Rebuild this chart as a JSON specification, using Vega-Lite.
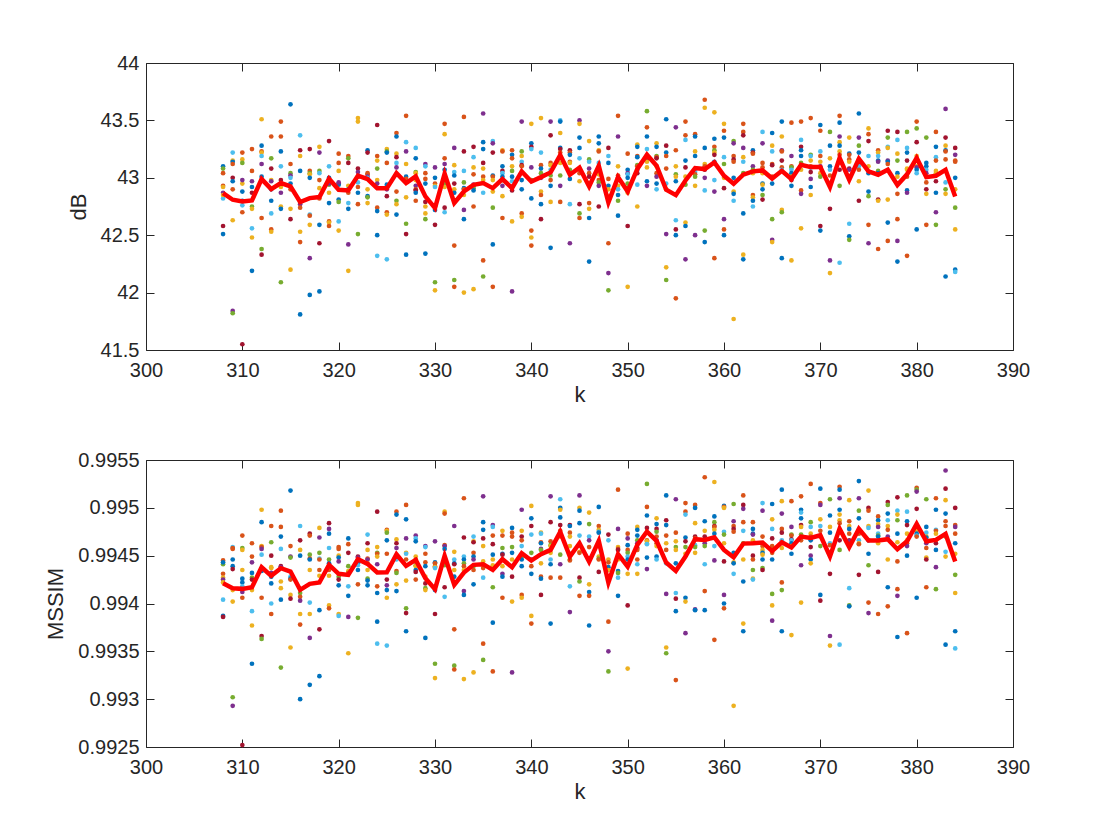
{
"$schema":"https://vega.github.io/schema/vega-lite/v6.json",
"background":"white",
"padding":{"left":44,"top":53,"right":5,"bottom":5},
"spacing":45,
"config":{"view":{"stroke":null},"font":"Liberation Sans","axis":{"domainColor":"#262626","tickColor":"#262626","labelColor":"#262626","titleColor":"#262626","labelFont":"Liberation Sans","titleFont":"Liberation Sans","labelFontSize":20,"titleFontSize":22,"titleFontWeight":"normal","tickSize":-8,"grid":false,"labelFlush":false,"labelOverlap":false,"labelBound":false,"domainWidth":1,"tickWidth":1}},
"datasets":{
"psnr":[
{"k":308,"v":43.10,"c":"B"},{"k":308,"v":43.08,"c":"G"},{"k":308,"v":43.04,"c":"O"},{"k":308,"v":42.93,"c":"O"},{"k":308,"v":42.92,"c":"Y"},{"k":308,"v":42.87,"c":"P"},{"k":308,"v":42.82,"c":"C"},{"k":308,"v":42.58,"c":"R"},{"k":308,"v":42.51,"c":"B"},{"k":308,"v":42.85,"c":"Y"},
{"k":309,"v":43.22,"c":"C"},{"k":309,"v":43.15,"c":"Y"},{"k":309,"v":43.14,"c":"B"},{"k":309,"v":43.12,"c":"O"},{"k":309,"v":43.00,"c":"R"},{"k":309,"v":42.97,"c":"B"},{"k":309,"v":42.90,"c":"O"},{"k":309,"v":42.63,"c":"Y"},{"k":309,"v":41.84,"c":"P"},{"k":309,"v":41.82,"c":"G"},
{"k":310,"v":43.22,"c":"O"},{"k":310,"v":43.16,"c":"Y"},{"k":310,"v":43.13,"c":"G"},{"k":310,"v":42.95,"c":"Y"},{"k":310,"v":42.88,"c":"B"},{"k":310,"v":42.80,"c":"B"},{"k":310,"v":42.76,"c":"C"},{"k":310,"v":42.70,"c":"O"},{"k":310,"v":41.55,"c":"R"},{"k":310,"v":42.98,"c":"P"},
{"k":311,"v":43.25,"c":"O"},{"k":311,"v":43.06,"c":"O"},{"k":311,"v":42.97,"c":"P"},{"k":311,"v":42.87,"c":"R"},{"k":311,"v":42.75,"c":"G"},{"k":311,"v":42.73,"c":"Y"},{"k":311,"v":42.56,"c":"C"},{"k":311,"v":42.48,"c":"Y"},{"k":311,"v":42.19,"c":"B"},{"k":311,"v":42.92,"c":"B"},
{"k":312,"v":43.51,"c":"Y"},{"k":312,"v":43.28,"c":"B"},{"k":312,"v":43.23,"c":"O"},{"k":312,"v":43.22,"c":"Y"},{"k":312,"v":43.19,"c":"C"},{"k":312,"v":43.12,"c":"P"},{"k":312,"v":43.01,"c":"B"},{"k":312,"v":42.65,"c":"O"},{"k":312,"v":42.38,"c":"G"},{"k":312,"v":42.33,"c":"R"},
{"k":313,"v":43.36,"c":"O"},{"k":313,"v":43.17,"c":"G"},{"k":313,"v":43.08,"c":"R"},{"k":313,"v":42.98,"c":"Y"},{"k":313,"v":42.97,"c":"P"},{"k":313,"v":42.80,"c":"B"},{"k":313,"v":42.69,"c":"C"},{"k":313,"v":42.55,"c":"O"},{"k":313,"v":42.53,"c":"Y"},{"k":313,"v":42.90,"c":"B"},
{"k":314,"v":43.49,"c":"O"},{"k":314,"v":43.36,"c":"O"},{"k":314,"v":43.23,"c":"B"},{"k":314,"v":43.10,"c":"C"},{"k":314,"v":42.98,"c":"R"},{"k":314,"v":42.92,"c":"Y"},{"k":314,"v":42.87,"c":"P"},{"k":314,"v":42.75,"c":"Y"},{"k":314,"v":42.73,"c":"B"},{"k":314,"v":42.09,"c":"G"},
{"k":315,"v":43.64,"c":"B"},{"k":315,"v":43.12,"c":"O"},{"k":315,"v":43.04,"c":"G"},{"k":315,"v":43.02,"c":"P"},{"k":315,"v":43.00,"c":"C"},{"k":315,"v":42.95,"c":"B"},{"k":315,"v":42.90,"c":"O"},{"k":315,"v":42.73,"c":"Y"},{"k":315,"v":42.64,"c":"R"},{"k":315,"v":42.20,"c":"Y"},
{"k":316,"v":43.37,"c":"C"},{"k":316,"v":43.24,"c":"R"},{"k":316,"v":43.19,"c":"Y"},{"k":316,"v":43.06,"c":"B"},{"k":316,"v":42.78,"c":"G"},{"k":316,"v":42.77,"c":"P"},{"k":316,"v":42.74,"c":"O"},{"k":316,"v":42.53,"c":"Y"},{"k":316,"v":42.44,"c":"O"},{"k":316,"v":41.81,"c":"B"},
{"k":317,"v":43.25,"c":"R"},{"k":317,"v":43.06,"c":"O"},{"k":317,"v":43.04,"c":"G"},{"k":317,"v":43.03,"c":"Y"},{"k":317,"v":43.00,"c":"B"},{"k":317,"v":42.68,"c":"C"},{"k":317,"v":42.67,"c":"O"},{"k":317,"v":42.59,"c":"Y"},{"k":317,"v":42.30,"c":"P"},{"k":317,"v":41.98,"c":"B"},
{"k":318,"v":43.27,"c":"Y"},{"k":318,"v":43.22,"c":"P"},{"k":318,"v":43.06,"c":"G"},{"k":318,"v":43.04,"c":"C"},{"k":318,"v":42.98,"c":"O"},{"k":318,"v":42.91,"c":"Y"},{"k":318,"v":42.82,"c":"O"},{"k":318,"v":42.59,"c":"B"},{"k":318,"v":42.43,"c":"R"},{"k":318,"v":42.01,"c":"B"},
{"k":319,"v":43.32,"c":"R"},{"k":319,"v":43.10,"c":"C"},{"k":319,"v":43.00,"c":"B"},{"k":319,"v":42.94,"c":"G"},{"k":319,"v":42.95,"c":"P"},{"k":319,"v":42.87,"c":"Y"},{"k":319,"v":42.78,"c":"B"},{"k":319,"v":42.62,"c":"O"},{"k":319,"v":42.61,"c":"Y"},{"k":319,"v":42.58,"c":"O"},
{"k":320,"v":43.21,"c":"O"},{"k":320,"v":43.13,"c":"O"},{"k":320,"v":43.06,"c":"Y"},{"k":320,"v":42.95,"c":"R"},{"k":320,"v":42.94,"c":"B"},{"k":320,"v":42.96,"c":"P"},{"k":320,"v":42.81,"c":"B"},{"k":320,"v":42.79,"c":"G"},{"k":320,"v":42.62,"c":"C"},{"k":320,"v":42.54,"c":"Y"},
{"k":321,"v":43.19,"c":"O"},{"k":321,"v":43.17,"c":"G"},{"k":321,"v":43.13,"c":"R"},{"k":321,"v":42.93,"c":"Y"},{"k":321,"v":42.90,"c":"B"},{"k":321,"v":42.87,"c":"O"},{"k":321,"v":42.78,"c":"C"},{"k":321,"v":42.73,"c":"B"},{"k":321,"v":42.42,"c":"P"},{"k":321,"v":42.19,"c":"Y"},
{"k":322,"v":43.52,"c":"Y"},{"k":322,"v":43.49,"c":"Y"},{"k":322,"v":43.08,"c":"R"},{"k":322,"v":43.05,"c":"P"},{"k":322,"v":43.01,"c":"B"},{"k":322,"v":42.96,"c":"C"},{"k":322,"v":42.92,"c":"O"},{"k":322,"v":42.87,"c":"B"},{"k":322,"v":42.77,"c":"O"},{"k":322,"v":42.51,"c":"G"},
{"k":323,"v":43.24,"c":"B"},{"k":323,"v":43.22,"c":"R"},{"k":323,"v":43.04,"c":"O"},{"k":323,"v":43.03,"c":"O"},{"k":323,"v":43.01,"c":"P"},{"k":323,"v":43.00,"c":"C"},{"k":323,"v":42.90,"c":"Y"},{"k":323,"v":42.84,"c":"B"},{"k":323,"v":42.83,"c":"G"},{"k":323,"v":42.78,"c":"Y"},
{"k":324,"v":43.46,"c":"R"},{"k":324,"v":43.19,"c":"O"},{"k":324,"v":43.15,"c":"Y"},{"k":324,"v":43.08,"c":"G"},{"k":324,"v":42.98,"c":"Y"},{"k":324,"v":42.95,"c":"P"},{"k":324,"v":42.74,"c":"O"},{"k":324,"v":42.71,"c":"B"},{"k":324,"v":42.50,"c":"B"},{"k":324,"v":42.32,"c":"C"},
{"k":325,"v":43.25,"c":"Y"},{"k":325,"v":43.23,"c":"G"},{"k":325,"v":43.22,"c":"B"},{"k":325,"v":43.13,"c":"O"},{"k":325,"v":42.94,"c":"B"},{"k":325,"v":42.90,"c":"P"},{"k":325,"v":42.84,"c":"R"},{"k":325,"v":42.70,"c":"O"},{"k":325,"v":42.68,"c":"Y"},{"k":325,"v":42.29,"c":"C"},
{"k":326,"v":43.39,"c":"O"},{"k":326,"v":43.36,"c":"B"},{"k":326,"v":43.21,"c":"Y"},{"k":326,"v":43.18,"c":"R"},{"k":326,"v":43.13,"c":"C"},{"k":326,"v":43.09,"c":"P"},{"k":326,"v":42.88,"c":"O"},{"k":326,"v":42.80,"c":"G"},{"k":326,"v":42.77,"c":"Y"},{"k":326,"v":42.68,"c":"B"},
{"k":327,"v":43.54,"c":"O"},{"k":327,"v":43.31,"c":"C"},{"k":327,"v":43.23,"c":"P"},{"k":327,"v":43.12,"c":"Y"},{"k":327,"v":43.01,"c":"B"},{"k":327,"v":42.99,"c":"O"},{"k":327,"v":42.83,"c":"Y"},{"k":327,"v":42.60,"c":"G"},{"k":327,"v":42.51,"c":"R"},{"k":327,"v":42.33,"c":"B"},
{"k":328,"v":43.26,"c":"C"},{"k":328,"v":43.17,"c":"B"},{"k":328,"v":43.05,"c":"G"},{"k":328,"v":43.04,"c":"Y"},{"k":328,"v":42.98,"c":"Y"},{"k":328,"v":42.93,"c":"P"},{"k":328,"v":42.90,"c":"O"},{"k":328,"v":42.89,"c":"R"},{"k":328,"v":42.87,"c":"B"},{"k":328,"v":42.80,"c":"O"},
{"k":329,"v":43.12,"c":"P"},{"k":329,"v":43.10,"c":"C"},{"k":329,"v":43.04,"c":"O"},{"k":329,"v":42.99,"c":"O"},{"k":329,"v":42.79,"c":"R"},{"k":329,"v":42.75,"c":"Y"},{"k":329,"v":42.69,"c":"Y"},{"k":329,"v":42.64,"c":"G"},{"k":329,"v":42.34,"c":"B"},{"k":329,"v":42.95,"c":"B"},
{"k":330,"v":43.09,"c":"P"},{"k":330,"v":43.00,"c":"B"},{"k":330,"v":42.95,"c":"O"},{"k":330,"v":42.93,"c":"Y"},{"k":330,"v":42.92,"c":"C"},{"k":330,"v":42.72,"c":"B"},{"k":330,"v":42.59,"c":"R"},{"k":330,"v":42.09,"c":"G"},{"k":330,"v":42.02,"c":"Y"},{"k":330,"v":42.75,"c":"O"},
{"k":331,"v":43.47,"c":"O"},{"k":331,"v":43.38,"c":"Y"},{"k":331,"v":43.17,"c":"O"},{"k":331,"v":43.12,"c":"P"},{"k":331,"v":43.07,"c":"B"},{"k":331,"v":42.98,"c":"B"},{"k":331,"v":42.95,"c":"G"},{"k":331,"v":42.92,"c":"Y"},{"k":331,"v":42.74,"c":"R"},{"k":331,"v":42.70,"c":"C"},
{"k":332,"v":43.26,"c":"P"},{"k":332,"v":43.11,"c":"Y"},{"k":332,"v":43.05,"c":"C"},{"k":332,"v":43.02,"c":"B"},{"k":332,"v":42.95,"c":"R"},{"k":332,"v":42.90,"c":"Y"},{"k":332,"v":42.87,"c":"B"},{"k":332,"v":42.41,"c":"O"},{"k":332,"v":42.11,"c":"G"},{"k":332,"v":42.05,"c":"O"},
{"k":333,"v":43.53,"c":"O"},{"k":333,"v":43.23,"c":"R"},{"k":333,"v":43.06,"c":"C"},{"k":333,"v":42.96,"c":"G"},{"k":333,"v":42.91,"c":"B"},{"k":333,"v":42.90,"c":"O"},{"k":333,"v":42.85,"c":"Y"},{"k":333,"v":42.72,"c":"P"},{"k":333,"v":42.64,"c":"B"},{"k":333,"v":42.00,"c":"Y"},
{"k":334,"v":43.27,"c":"R"},{"k":334,"v":43.18,"c":"C"},{"k":334,"v":43.09,"c":"Y"},{"k":334,"v":43.03,"c":"O"},{"k":334,"v":42.94,"c":"P"},{"k":334,"v":42.93,"c":"B"},{"k":334,"v":42.91,"c":"G"},{"k":334,"v":42.89,"c":"B"},{"k":334,"v":42.75,"c":"O"},{"k":334,"v":42.03,"c":"Y"},
{"k":335,"v":43.56,"c":"P"},{"k":335,"v":43.31,"c":"B"},{"k":335,"v":43.25,"c":"B"},{"k":335,"v":43.13,"c":"R"},{"k":335,"v":43.08,"c":"Y"},{"k":335,"v":43.01,"c":"O"},{"k":335,"v":42.98,"c":"Y"},{"k":335,"v":42.87,"c":"C"},{"k":335,"v":42.28,"c":"O"},{"k":335,"v":42.14,"c":"G"},
{"k":336,"v":43.32,"c":"C"},{"k":336,"v":43.30,"c":"P"},{"k":336,"v":43.22,"c":"R"},{"k":336,"v":43.02,"c":"B"},{"k":336,"v":43.01,"c":"O"},{"k":336,"v":42.98,"c":"Y"},{"k":336,"v":42.88,"c":"Y"},{"k":336,"v":42.74,"c":"G"},{"k":336,"v":42.42,"c":"B"},{"k":336,"v":42.05,"c":"O"},
{"k":337,"v":43.24,"c":"Y"},{"k":337,"v":43.23,"c":"O"},{"k":337,"v":43.10,"c":"B"},{"k":337,"v":43.06,"c":"R"},{"k":337,"v":43.04,"c":"C"},{"k":337,"v":43.01,"c":"B"},{"k":337,"v":42.98,"c":"G"},{"k":337,"v":42.93,"c":"P"},{"k":337,"v":42.84,"c":"Y"},{"k":337,"v":42.65,"c":"O"},
{"k":338,"v":43.24,"c":"O"},{"k":338,"v":43.20,"c":"B"},{"k":338,"v":43.17,"c":"O"},{"k":338,"v":43.10,"c":"Y"},{"k":338,"v":43.06,"c":"G"},{"k":338,"v":43.01,"c":"B"},{"k":338,"v":42.97,"c":"C"},{"k":338,"v":42.89,"c":"R"},{"k":338,"v":42.62,"c":"Y"},{"k":338,"v":42.01,"c":"P"},
{"k":339,"v":43.49,"c":"P"},{"k":339,"v":43.23,"c":"G"},{"k":339,"v":43.19,"c":"Y"},{"k":339,"v":43.14,"c":"C"},{"k":339,"v":43.11,"c":"R"},{"k":339,"v":43.10,"c":"O"},{"k":339,"v":42.98,"c":"B"},{"k":339,"v":42.90,"c":"B"},{"k":339,"v":42.69,"c":"O"},{"k":339,"v":42.66,"c":"Y"},
{"k":340,"v":43.47,"c":"Y"},{"k":340,"v":43.30,"c":"B"},{"k":340,"v":43.27,"c":"R"},{"k":340,"v":43.25,"c":"C"},{"k":340,"v":43.09,"c":"P"},{"k":340,"v":42.98,"c":"G"},{"k":340,"v":42.82,"c":"B"},{"k":340,"v":42.54,"c":"O"},{"k":340,"v":42.48,"c":"Y"},{"k":340,"v":42.41,"c":"O"},
{"k":341,"v":43.52,"c":"Y"},{"k":341,"v":43.22,"c":"C"},{"k":341,"v":43.11,"c":"O"},{"k":341,"v":43.08,"c":"B"},{"k":341,"v":43.04,"c":"G"},{"k":341,"v":43.00,"c":"P"},{"k":341,"v":42.88,"c":"Y"},{"k":341,"v":42.85,"c":"O"},{"k":341,"v":42.77,"c":"B"},{"k":341,"v":42.64,"c":"R"},
{"k":342,"v":43.49,"c":"P"},{"k":342,"v":43.37,"c":"R"},{"k":342,"v":43.13,"c":"O"},{"k":342,"v":43.11,"c":"Y"},{"k":342,"v":43.07,"c":"C"},{"k":342,"v":43.02,"c":"G"},{"k":342,"v":42.98,"c":"O"},{"k":342,"v":42.93,"c":"B"},{"k":342,"v":42.39,"c":"B"},{"k":342,"v":42.79,"c":"Y"},
{"k":343,"v":43.50,"c":"C"},{"k":343,"v":43.49,"c":"B"},{"k":343,"v":43.39,"c":"Y"},{"k":343,"v":43.26,"c":"B"},{"k":343,"v":43.25,"c":"R"},{"k":343,"v":43.22,"c":"O"},{"k":343,"v":43.13,"c":"Y"},{"k":343,"v":43.02,"c":"G"},{"k":343,"v":42.93,"c":"P"},{"k":343,"v":42.79,"c":"O"},
{"k":344,"v":43.24,"c":"R"},{"k":344,"v":43.22,"c":"O"},{"k":344,"v":43.20,"c":"B"},{"k":344,"v":43.14,"c":"O"},{"k":344,"v":43.13,"c":"Y"},{"k":344,"v":43.07,"c":"G"},{"k":344,"v":43.04,"c":"Y"},{"k":344,"v":42.99,"c":"B"},{"k":344,"v":42.77,"c":"C"},{"k":344,"v":42.43,"c":"P"},
{"k":345,"v":43.50,"c":"P"},{"k":345,"v":43.47,"c":"Y"},{"k":345,"v":43.35,"c":"B"},{"k":345,"v":43.26,"c":"B"},{"k":345,"v":43.17,"c":"C"},{"k":345,"v":43.04,"c":"O"},{"k":345,"v":42.97,"c":"Y"},{"k":345,"v":42.77,"c":"R"},{"k":345,"v":42.69,"c":"G"},{"k":345,"v":42.65,"c":"O"},
{"k":346,"v":43.32,"c":"Y"},{"k":346,"v":43.16,"c":"G"},{"k":346,"v":43.14,"c":"C"},{"k":346,"v":43.08,"c":"P"},{"k":346,"v":43.04,"c":"O"},{"k":346,"v":43.01,"c":"R"},{"k":346,"v":42.78,"c":"O"},{"k":346,"v":42.73,"c":"Y"},{"k":346,"v":42.65,"c":"B"},{"k":346,"v":42.27,"c":"B"},
{"k":347,"v":43.36,"c":"B"},{"k":347,"v":43.30,"c":"B"},{"k":347,"v":43.24,"c":"Y"},{"k":347,"v":43.23,"c":"O"},{"k":347,"v":43.13,"c":"C"},{"k":347,"v":43.03,"c":"Y"},{"k":347,"v":42.98,"c":"O"},{"k":347,"v":42.96,"c":"G"},{"k":347,"v":42.93,"c":"P"},{"k":347,"v":42.75,"c":"R"},
{"k":348,"v":43.26,"c":"R"},{"k":348,"v":43.19,"c":"C"},{"k":348,"v":43.13,"c":"B"},{"k":348,"v":42.99,"c":"O"},{"k":348,"v":42.93,"c":"B"},{"k":348,"v":42.84,"c":"Y"},{"k":348,"v":42.43,"c":"O"},{"k":348,"v":42.17,"c":"P"},{"k":348,"v":42.02,"c":"G"},{"k":348,"v":42.90,"c":"Y"},
{"k":349,"v":43.54,"c":"O"},{"k":349,"v":43.36,"c":"P"},{"k":349,"v":43.10,"c":"Y"},{"k":349,"v":43.02,"c":"O"},{"k":349,"v":43.00,"c":"R"},{"k":349,"v":42.93,"c":"Y"},{"k":349,"v":42.90,"c":"C"},{"k":349,"v":42.85,"c":"B"},{"k":349,"v":42.80,"c":"G"},{"k":349,"v":42.67,"c":"B"},
{"k":350,"v":43.21,"c":"O"},{"k":350,"v":43.07,"c":"B"},{"k":350,"v":43.04,"c":"P"},{"k":350,"v":43.03,"c":"C"},{"k":350,"v":43.00,"c":"B"},{"k":350,"v":42.95,"c":"G"},{"k":350,"v":42.91,"c":"O"},{"k":350,"v":42.87,"c":"Y"},{"k":350,"v":42.58,"c":"R"},{"k":350,"v":42.05,"c":"Y"},
{"k":351,"v":43.29,"c":"Y"},{"k":351,"v":43.27,"c":"B"},{"k":351,"v":43.19,"c":"O"},{"k":351,"v":43.18,"c":"B"},{"k":351,"v":43.11,"c":"G"},{"k":351,"v":43.10,"c":"O"},{"k":351,"v":43.07,"c":"P"},{"k":351,"v":43.04,"c":"R"},{"k":351,"v":42.94,"c":"C"},{"k":351,"v":42.75,"c":"Y"},
{"k":352,"v":43.58,"c":"G"},{"k":352,"v":43.44,"c":"O"},{"k":352,"v":43.36,"c":"B"},{"k":352,"v":43.25,"c":"C"},{"k":352,"v":43.19,"c":"O"},{"k":352,"v":43.16,"c":"R"},{"k":352,"v":43.14,"c":"Y"},{"k":352,"v":43.09,"c":"Y"},{"k":352,"v":42.97,"c":"B"},{"k":352,"v":42.93,"c":"P"},
{"k":353,"v":43.30,"c":"Y"},{"k":353,"v":43.27,"c":"B"},{"k":353,"v":43.19,"c":"G"},{"k":353,"v":43.18,"c":"O"},{"k":353,"v":43.17,"c":"R"},{"k":353,"v":43.10,"c":"Y"},{"k":353,"v":43.04,"c":"O"},{"k":353,"v":43.01,"c":"P"},{"k":353,"v":42.95,"c":"B"},{"k":353,"v":42.90,"c":"C"},
{"k":354,"v":43.51,"c":"B"},{"k":354,"v":43.28,"c":"R"},{"k":354,"v":43.22,"c":"B"},{"k":354,"v":43.19,"c":"O"},{"k":354,"v":43.08,"c":"O"},{"k":354,"v":42.95,"c":"C"},{"k":354,"v":42.90,"c":"Y"},{"k":354,"v":42.51,"c":"P"},{"k":354,"v":42.22,"c":"Y"},{"k":354,"v":42.11,"c":"G"},
{"k":355,"v":43.44,"c":"P"},{"k":355,"v":43.24,"c":"O"},{"k":355,"v":43.10,"c":"Y"},{"k":355,"v":43.03,"c":"G"},{"k":355,"v":43.01,"c":"Y"},{"k":355,"v":42.97,"c":"B"},{"k":355,"v":42.63,"c":"C"},{"k":355,"v":42.55,"c":"R"},{"k":355,"v":42.50,"c":"B"},{"k":355,"v":41.95,"c":"O"},
{"k":356,"v":43.49,"c":"O"},{"k":356,"v":43.37,"c":"O"},{"k":356,"v":43.33,"c":"C"},{"k":356,"v":43.15,"c":"B"},{"k":356,"v":43.09,"c":"R"},{"k":356,"v":43.01,"c":"Y"},{"k":356,"v":42.94,"c":"G"},{"k":356,"v":42.61,"c":"Y"},{"k":356,"v":42.58,"c":"B"},{"k":356,"v":42.29,"c":"P"},
{"k":357,"v":43.38,"c":"O"},{"k":357,"v":43.36,"c":"B"},{"k":357,"v":43.23,"c":"Y"},{"k":357,"v":43.19,"c":"B"},{"k":357,"v":43.07,"c":"R"},{"k":357,"v":43.05,"c":"C"},{"k":357,"v":43.03,"c":"O"},{"k":357,"v":43.01,"c":"G"},{"k":357,"v":42.93,"c":"Y"},{"k":357,"v":42.50,"c":"P"},
{"k":358,"v":43.68,"c":"O"},{"k":358,"v":43.61,"c":"Y"},{"k":358,"v":43.26,"c":"B"},{"k":358,"v":43.12,"c":"Y"},{"k":358,"v":43.10,"c":"O"},{"k":358,"v":43.07,"c":"R"},{"k":358,"v":43.00,"c":"P"},{"k":358,"v":42.89,"c":"C"},{"k":358,"v":42.54,"c":"G"},{"k":358,"v":42.44,"c":"B"},
{"k":359,"v":43.57,"c":"Y"},{"k":359,"v":43.34,"c":"B"},{"k":359,"v":43.27,"c":"O"},{"k":359,"v":43.24,"c":"G"},{"k":359,"v":43.22,"c":"Y"},{"k":359,"v":43.20,"c":"R"},{"k":359,"v":43.14,"c":"B"},{"k":359,"v":42.98,"c":"C"},{"k":359,"v":42.88,"c":"P"},{"k":359,"v":42.30,"c":"O"},
{"k":360,"v":43.47,"c":"Y"},{"k":360,"v":43.41,"c":"O"},{"k":360,"v":43.35,"c":"B"},{"k":360,"v":43.18,"c":"C"},{"k":360,"v":43.12,"c":"G"},{"k":360,"v":43.00,"c":"Y"},{"k":360,"v":42.91,"c":"R"},{"k":360,"v":42.64,"c":"P"},{"k":360,"v":42.55,"c":"O"},{"k":360,"v":42.50,"c":"B"},
{"k":361,"v":43.32,"c":"G"},{"k":361,"v":43.30,"c":"P"},{"k":361,"v":43.19,"c":"O"},{"k":361,"v":43.16,"c":"R"},{"k":361,"v":43.14,"c":"O"},{"k":361,"v":43.00,"c":"B"},{"k":361,"v":42.88,"c":"Y"},{"k":361,"v":42.86,"c":"B"},{"k":361,"v":42.80,"c":"C"},{"k":361,"v":41.77,"c":"Y"},
{"k":362,"v":43.47,"c":"O"},{"k":362,"v":43.40,"c":"O"},{"k":362,"v":43.37,"c":"R"},{"k":362,"v":43.26,"c":"P"},{"k":362,"v":43.18,"c":"Y"},{"k":362,"v":43.14,"c":"C"},{"k":362,"v":43.04,"c":"G"},{"k":362,"v":42.69,"c":"B"},{"k":362,"v":42.33,"c":"Y"},{"k":362,"v":42.29,"c":"B"},
{"k":363,"v":43.24,"c":"B"},{"k":363,"v":43.22,"c":"R"},{"k":363,"v":43.21,"c":"O"},{"k":363,"v":43.10,"c":"P"},{"k":363,"v":43.07,"c":"G"},{"k":363,"v":43.04,"c":"Y"},{"k":363,"v":42.85,"c":"O"},{"k":363,"v":42.83,"c":"Y"},{"k":363,"v":42.80,"c":"B"},{"k":363,"v":42.75,"c":"C"},
{"k":364,"v":43.40,"c":"C"},{"k":364,"v":43.30,"c":"P"},{"k":364,"v":43.13,"c":"O"},{"k":364,"v":43.09,"c":"O"},{"k":364,"v":43.04,"c":"Y"},{"k":364,"v":42.95,"c":"B"},{"k":364,"v":42.94,"c":"Y"},{"k":364,"v":42.90,"c":"B"},{"k":364,"v":42.85,"c":"G"},{"k":364,"v":42.81,"c":"R"},
{"k":365,"v":43.39,"c":"B"},{"k":365,"v":43.28,"c":"Y"},{"k":365,"v":43.23,"c":"C"},{"k":365,"v":43.12,"c":"O"},{"k":365,"v":43.11,"c":"R"},{"k":365,"v":43.01,"c":"O"},{"k":365,"v":42.95,"c":"B"},{"k":365,"v":42.64,"c":"G"},{"k":365,"v":42.46,"c":"P"},{"k":365,"v":42.44,"c":"Y"},
{"k":366,"v":43.49,"c":"B"},{"k":366,"v":43.36,"c":"Y"},{"k":366,"v":43.24,"c":"P"},{"k":366,"v":43.23,"c":"O"},{"k":366,"v":43.15,"c":"R"},{"k":366,"v":43.09,"c":"O"},{"k":366,"v":43.07,"c":"C"},{"k":366,"v":42.72,"c":"Y"},{"k":366,"v":42.70,"c":"G"},{"k":366,"v":42.30,"c":"B"},
{"k":367,"v":43.48,"c":"O"},{"k":367,"v":43.19,"c":"P"},{"k":367,"v":43.10,"c":"O"},{"k":367,"v":43.09,"c":"G"},{"k":367,"v":43.07,"c":"C"},{"k":367,"v":43.04,"c":"B"},{"k":367,"v":43.01,"c":"Y"},{"k":367,"v":42.98,"c":"R"},{"k":367,"v":42.93,"c":"B"},{"k":367,"v":42.28,"c":"Y"},
{"k":368,"v":43.49,"c":"O"},{"k":368,"v":43.33,"c":"C"},{"k":368,"v":43.27,"c":"R"},{"k":368,"v":43.24,"c":"B"},{"k":368,"v":43.19,"c":"B"},{"k":368,"v":43.13,"c":"G"},{"k":368,"v":43.07,"c":"Y"},{"k":368,"v":42.89,"c":"O"},{"k":368,"v":42.86,"c":"P"},{"k":368,"v":42.56,"c":"Y"},
{"k":369,"v":43.52,"c":"O"},{"k":369,"v":43.20,"c":"G"},{"k":369,"v":43.19,"c":"C"},{"k":369,"v":43.15,"c":"Y"},{"k":369,"v":43.10,"c":"O"},{"k":369,"v":43.09,"c":"B"},{"k":369,"v":43.05,"c":"R"},{"k":369,"v":42.99,"c":"P"},{"k":369,"v":42.92,"c":"B"},{"k":369,"v":42.85,"c":"Y"},
{"k":370,"v":43.46,"c":"B"},{"k":370,"v":43.41,"c":"O"},{"k":370,"v":43.23,"c":"C"},{"k":370,"v":43.19,"c":"O"},{"k":370,"v":43.14,"c":"Y"},{"k":370,"v":43.10,"c":"P"},{"k":370,"v":43.04,"c":"Y"},{"k":370,"v":43.01,"c":"G"},{"k":370,"v":42.58,"c":"R"},{"k":370,"v":42.54,"c":"B"},
{"k":371,"v":43.40,"c":"G"},{"k":371,"v":43.28,"c":"B"},{"k":371,"v":43.17,"c":"Y"},{"k":371,"v":43.10,"c":"B"},{"k":371,"v":43.07,"c":"C"},{"k":371,"v":43.02,"c":"O"},{"k":371,"v":42.95,"c":"O"},{"k":371,"v":42.73,"c":"R"},{"k":371,"v":42.28,"c":"P"},{"k":371,"v":42.17,"c":"Y"},
{"k":372,"v":43.54,"c":"O"},{"k":372,"v":43.48,"c":"B"},{"k":372,"v":43.36,"c":"P"},{"k":372,"v":43.31,"c":"Y"},{"k":372,"v":43.28,"c":"B"},{"k":372,"v":43.23,"c":"Y"},{"k":372,"v":43.20,"c":"O"},{"k":372,"v":43.07,"c":"R"},{"k":372,"v":42.93,"c":"G"},{"k":372,"v":42.26,"c":"C"},
{"k":373,"v":43.35,"c":"Y"},{"k":373,"v":43.21,"c":"B"},{"k":373,"v":43.20,"c":"O"},{"k":373,"v":43.16,"c":"O"},{"k":373,"v":43.14,"c":"Y"},{"k":373,"v":43.08,"c":"R"},{"k":373,"v":43.07,"c":"P"},{"k":373,"v":42.60,"c":"C"},{"k":373,"v":42.49,"c":"B"},{"k":373,"v":42.46,"c":"G"},
{"k":374,"v":43.56,"c":"B"},{"k":374,"v":43.35,"c":"P"},{"k":374,"v":43.28,"c":"G"},{"k":374,"v":43.22,"c":"B"},{"k":374,"v":43.16,"c":"Y"},{"k":374,"v":43.11,"c":"O"},{"k":374,"v":43.10,"c":"C"},{"k":374,"v":43.07,"c":"O"},{"k":374,"v":42.97,"c":"Y"},{"k":374,"v":42.80,"c":"R"},
{"k":375,"v":43.43,"c":"Y"},{"k":375,"v":43.38,"c":"O"},{"k":375,"v":43.32,"c":"R"},{"k":375,"v":43.19,"c":"C"},{"k":375,"v":43.10,"c":"Y"},{"k":375,"v":43.04,"c":"B"},{"k":375,"v":42.88,"c":"B"},{"k":375,"v":42.84,"c":"G"},{"k":375,"v":42.59,"c":"O"},{"k":375,"v":42.43,"c":"P"},
{"k":376,"v":43.24,"c":"O"},{"k":376,"v":43.22,"c":"Y"},{"k":376,"v":43.19,"c":"C"},{"k":376,"v":43.15,"c":"B"},{"k":376,"v":43.14,"c":"P"},{"k":376,"v":43.06,"c":"G"},{"k":376,"v":43.04,"c":"B"},{"k":376,"v":42.81,"c":"R"},{"k":376,"v":42.80,"c":"Y"},{"k":376,"v":42.38,"c":"O"},
{"k":377,"v":43.41,"c":"R"},{"k":377,"v":43.35,"c":"G"},{"k":377,"v":43.27,"c":"C"},{"k":377,"v":43.26,"c":"Y"},{"k":377,"v":43.15,"c":"P"},{"k":377,"v":43.14,"c":"B"},{"k":377,"v":43.12,"c":"O"},{"k":377,"v":42.81,"c":"Y"},{"k":377,"v":42.61,"c":"B"},{"k":377,"v":42.45,"c":"O"},
{"k":378,"v":43.40,"c":"R"},{"k":378,"v":43.33,"c":"C"},{"k":378,"v":43.21,"c":"Y"},{"k":378,"v":43.15,"c":"G"},{"k":378,"v":43.04,"c":"B"},{"k":378,"v":43.01,"c":"Y"},{"k":378,"v":42.86,"c":"O"},{"k":378,"v":42.64,"c":"O"},{"k":378,"v":42.45,"c":"P"},{"k":378,"v":42.27,"c":"B"},
{"k":379,"v":43.40,"c":"G"},{"k":379,"v":43.26,"c":"C"},{"k":379,"v":43.22,"c":"B"},{"k":379,"v":43.15,"c":"R"},{"k":379,"v":43.08,"c":"Y"},{"k":379,"v":43.07,"c":"Y"},{"k":379,"v":43.01,"c":"O"},{"k":379,"v":42.89,"c":"B"},{"k":379,"v":42.87,"c":"P"},{"k":379,"v":42.32,"c":"O"},
{"k":380,"v":43.49,"c":"O"},{"k":380,"v":43.43,"c":"G"},{"k":380,"v":43.31,"c":"R"},{"k":380,"v":43.19,"c":"Y"},{"k":380,"v":43.16,"c":"O"},{"k":380,"v":43.10,"c":"Y"},{"k":380,"v":43.09,"c":"P"},{"k":380,"v":43.07,"c":"B"},{"k":380,"v":43.04,"c":"C"},{"k":380,"v":42.55,"c":"B"},
{"k":381,"v":43.35,"c":"G"},{"k":381,"v":43.13,"c":"B"},{"k":381,"v":43.10,"c":"B"},{"k":381,"v":43.07,"c":"C"},{"k":381,"v":43.04,"c":"P"},{"k":381,"v":43.01,"c":"Y"},{"k":381,"v":42.96,"c":"O"},{"k":381,"v":42.90,"c":"R"},{"k":381,"v":42.86,"c":"Y"},{"k":381,"v":42.59,"c":"O"},
{"k":382,"v":43.40,"c":"O"},{"k":382,"v":43.27,"c":"B"},{"k":382,"v":43.18,"c":"C"},{"k":382,"v":43.15,"c":"O"},{"k":382,"v":43.06,"c":"Y"},{"k":382,"v":43.04,"c":"Y"},{"k":382,"v":42.97,"c":"R"},{"k":382,"v":42.87,"c":"B"},{"k":382,"v":42.70,"c":"P"},{"k":382,"v":42.59,"c":"G"},
{"k":383,"v":43.60,"c":"P"},{"k":383,"v":43.35,"c":"R"},{"k":383,"v":43.28,"c":"Y"},{"k":383,"v":43.24,"c":"B"},{"k":383,"v":43.23,"c":"O"},{"k":383,"v":43.16,"c":"O"},{"k":383,"v":42.96,"c":"C"},{"k":383,"v":42.90,"c":"G"},{"k":383,"v":42.86,"c":"Y"},{"k":383,"v":42.14,"c":"B"},
{"k":384,"v":43.26,"c":"R"},{"k":384,"v":43.20,"c":"P"},{"k":384,"v":43.15,"c":"O"},{"k":384,"v":43.14,"c":"O"},{"k":384,"v":43.00,"c":"B"},{"k":384,"v":42.90,"c":"Y"},{"k":384,"v":42.74,"c":"G"},{"k":384,"v":42.55,"c":"Y"},{"k":384,"v":42.20,"c":"B"},{"k":384,"v":42.18,"c":"C"}
],
"ssim":[
{"k":308,"v":0.99445,"c":"O"},{"k":308,"v":0.99441,"c":"G"},{"k":308,"v":0.99443,"c":"B"},{"k":308,"v":0.99431,"c":"O"},{"k":308,"v":0.99427,"c":"Y"},{"k":308,"v":0.99425,"c":"P"},{"k":308,"v":0.99422,"c":"Y"},{"k":308,"v":0.99404,"c":"C"},{"k":308,"v":0.99387,"c":"B"},{"k":308,"v":0.99386,"c":"R"},
{"k":309,"v":0.99459,"c":"C"},{"k":309,"v":0.99458,"c":"O"},{"k":309,"v":0.99457,"c":"O"},{"k":309,"v":0.99446,"c":"B"},{"k":309,"v":0.99439,"c":"B"},{"k":309,"v":0.99436,"c":"R"},{"k":309,"v":0.99414,"c":"Y"},{"k":309,"v":0.99402,"c":"Y"},{"k":309,"v":0.99302,"c":"G"},{"k":309,"v":0.99293,"c":"P"},
{"k":310,"v":0.99471,"c":"O"},{"k":310,"v":0.99458,"c":"G"},{"k":310,"v":0.99456,"c":"Y"},{"k":310,"v":0.99435,"c":"Y"},{"k":310,"v":0.99426,"c":"B"},{"k":310,"v":0.99422,"c":"B"},{"k":310,"v":0.99418,"c":"C"},{"k":310,"v":0.99412,"c":"P"},{"k":310,"v":0.99406,"c":"O"},{"k":310,"v":0.99252,"c":"R"},
{"k":311,"v":0.99463,"c":"O"},{"k":311,"v":0.99449,"c":"O"},{"k":311,"v":0.99443,"c":"P"},{"k":311,"v":0.99432,"c":"B"},{"k":311,"v":0.99427,"c":"G"},{"k":311,"v":0.99425,"c":"R"},{"k":311,"v":0.99414,"c":"Y"},{"k":311,"v":0.99392,"c":"C"},{"k":311,"v":0.99377,"c":"Y"},{"k":311,"v":0.99337,"c":"B"},
{"k":312,"v":0.99498,"c":"Y"},{"k":312,"v":0.99485,"c":"B"},{"k":312,"v":0.99460,"c":"Y"},{"k":312,"v":0.99459,"c":"O"},{"k":312,"v":0.99457,"c":"P"},{"k":312,"v":0.99451,"c":"C"},{"k":312,"v":0.99434,"c":"B"},{"k":312,"v":0.99406,"c":"O"},{"k":312,"v":0.99366,"c":"R"},{"k":312,"v":0.99363,"c":"G"},
{"k":313,"v":0.99481,"c":"O"},{"k":313,"v":0.99464,"c":"G"},{"k":313,"v":0.99450,"c":"R"},{"k":313,"v":0.99438,"c":"Y"},{"k":313,"v":0.99437,"c":"Y"},{"k":313,"v":0.99432,"c":"P"},{"k":313,"v":0.99428,"c":"B"},{"k":313,"v":0.99421,"c":"B"},{"k":313,"v":0.99400,"c":"C"},{"k":313,"v":0.99389,"c":"O"},
{"k":314,"v":0.99497,"c":"O"},{"k":314,"v":0.99480,"c":"O"},{"k":314,"v":0.99470,"c":"B"},{"k":314,"v":0.99457,"c":"C"},{"k":314,"v":0.99439,"c":"R"},{"k":314,"v":0.99438,"c":"P"},{"k":314,"v":0.99423,"c":"Y"},{"k":314,"v":0.99416,"c":"Y"},{"k":314,"v":0.99404,"c":"B"},{"k":314,"v":0.99333,"c":"G"},
{"k":315,"v":0.99518,"c":"B"},{"k":315,"v":0.99460,"c":"O"},{"k":315,"v":0.99449,"c":"P"},{"k":315,"v":0.99448,"c":"G"},{"k":315,"v":0.99428,"c":"C"},{"k":315,"v":0.99426,"c":"B"},{"k":315,"v":0.99425,"c":"O"},{"k":315,"v":0.99409,"c":"Y"},{"k":315,"v":0.99405,"c":"R"},{"k":315,"v":0.99354,"c":"Y"},
{"k":316,"v":0.99481,"c":"C"},{"k":316,"v":0.99466,"c":"R"},{"k":316,"v":0.99456,"c":"Y"},{"k":316,"v":0.99450,"c":"B"},{"k":316,"v":0.99411,"c":"G"},{"k":316,"v":0.99407,"c":"O"},{"k":316,"v":0.99403,"c":"P"},{"k":316,"v":0.99389,"c":"Y"},{"k":316,"v":0.99378,"c":"O"},{"k":316,"v":0.99300,"c":"B"},
{"k":317,"v":0.99473,"c":"R"},{"k":317,"v":0.99471,"c":"O"},{"k":317,"v":0.99451,"c":"G"},{"k":317,"v":0.99447,"c":"O"},{"k":317,"v":0.99446,"c":"B"},{"k":317,"v":0.99435,"c":"Y"},{"k":317,"v":0.99401,"c":"C"},{"k":317,"v":0.99389,"c":"Y"},{"k":317,"v":0.99364,"c":"P"},{"k":317,"v":0.99315,"c":"B"},
{"k":318,"v":0.99479,"c":"Y"},{"k":318,"v":0.99469,"c":"P"},{"k":318,"v":0.99453,"c":"G"},{"k":318,"v":0.99447,"c":"C"},{"k":318,"v":0.99446,"c":"O"},{"k":318,"v":0.99435,"c":"O"},{"k":318,"v":0.99429,"c":"Y"},{"k":318,"v":0.99393,"c":"B"},{"k":318,"v":0.99373,"c":"R"},{"k":318,"v":0.99324,"c":"B"},
{"k":319,"v":0.99484,"c":"R"},{"k":319,"v":0.99478,"c":"P"},{"k":319,"v":0.99473,"c":"B"},{"k":319,"v":0.99458,"c":"C"},{"k":319,"v":0.99446,"c":"G"},{"k":319,"v":0.99442,"c":"B"},{"k":319,"v":0.99435,"c":"O"},{"k":319,"v":0.99429,"c":"Y"},{"k":319,"v":0.99398,"c":"Y"},{"k":319,"v":0.99395,"c":"O"},
{"k":320,"v":0.99459,"c":"O"},{"k":320,"v":0.99457,"c":"O"},{"k":320,"v":0.99450,"c":"Y"},{"k":320,"v":0.99448,"c":"B"},{"k":320,"v":0.99444,"c":"P"},{"k":320,"v":0.99428,"c":"G"},{"k":320,"v":0.99425,"c":"R"},{"k":320,"v":0.99419,"c":"B"},{"k":320,"v":0.99389,"c":"Y"},{"k":320,"v":0.99387,"c":"C"},
{"k":321,"v":0.99468,"c":"B"},{"k":321,"v":0.99462,"c":"O"},{"k":321,"v":0.99453,"c":"R"},{"k":321,"v":0.99439,"c":"G"},{"k":321,"v":0.99434,"c":"Y"},{"k":321,"v":0.99432,"c":"O"},{"k":321,"v":0.99418,"c":"C"},{"k":321,"v":0.99408,"c":"B"},{"k":321,"v":0.99386,"c":"P"},{"k":321,"v":0.99348,"c":"Y"},
{"k":322,"v":0.99505,"c":"Y"},{"k":322,"v":0.99503,"c":"Y"},{"k":322,"v":0.99449,"c":"R"},{"k":322,"v":0.99448,"c":"P"},{"k":322,"v":0.99446,"c":"O"},{"k":322,"v":0.99442,"c":"B"},{"k":322,"v":0.99440,"c":"C"},{"k":322,"v":0.99435,"c":"B"},{"k":322,"v":0.99420,"c":"O"},{"k":322,"v":0.99385,"c":"G"},
{"k":323,"v":0.99472,"c":"C"},{"k":323,"v":0.99463,"c":"R"},{"k":323,"v":0.99456,"c":"Y"},{"k":323,"v":0.99447,"c":"O"},{"k":323,"v":0.99446,"c":"P"},{"k":323,"v":0.99442,"c":"O"},{"k":323,"v":0.99435,"c":"Y"},{"k":323,"v":0.99426,"c":"G"},{"k":323,"v":0.99424,"c":"B"},{"k":323,"v":0.99419,"c":"B"},
{"k":324,"v":0.99496,"c":"R"},{"k":324,"v":0.99459,"c":"Y"},{"k":324,"v":0.99453,"c":"G"},{"k":324,"v":0.99452,"c":"O"},{"k":324,"v":0.99449,"c":"Y"},{"k":324,"v":0.99441,"c":"P"},{"k":324,"v":0.99418,"c":"O"},{"k":324,"v":0.99411,"c":"B"},{"k":324,"v":0.99381,"c":"B"},{"k":324,"v":0.99358,"c":"C"},
{"k":325,"v":0.99477,"c":"O"},{"k":325,"v":0.99476,"c":"Y"},{"k":325,"v":0.99474,"c":"G"},{"k":325,"v":0.99466,"c":"B"},{"k":325,"v":0.99452,"c":"O"},{"k":325,"v":0.99425,"c":"R"},{"k":325,"v":0.99419,"c":"P"},{"k":325,"v":0.99414,"c":"B"},{"k":325,"v":0.99406,"c":"Y"},{"k":325,"v":0.99356,"c":"C"},
{"k":326,"v":0.99496,"c":"O"},{"k":326,"v":0.99493,"c":"B"},{"k":326,"v":0.99467,"c":"Y"},{"k":326,"v":0.99463,"c":"R"},{"k":326,"v":0.99458,"c":"P"},{"k":326,"v":0.99446,"c":"C"},{"k":326,"v":0.99434,"c":"O"},{"k":326,"v":0.99432,"c":"G"},{"k":326,"v":0.99420,"c":"Y"},{"k":326,"v":0.99413,"c":"B"},
{"k":327,"v":0.99503,"c":"O"},{"k":327,"v":0.99488,"c":"B"},{"k":327,"v":0.99468,"c":"P"},{"k":327,"v":0.99453,"c":"Y"},{"k":327,"v":0.99452,"c":"C"},{"k":327,"v":0.99446,"c":"O"},{"k":327,"v":0.99424,"c":"Y"},{"k":327,"v":0.99395,"c":"G"},{"k":327,"v":0.99390,"c":"R"},{"k":327,"v":0.99371,"c":"B"},
{"k":328,"v":0.99471,"c":"P"},{"k":328,"v":0.99468,"c":"C"},{"k":328,"v":0.99465,"c":"B"},{"k":328,"v":0.99449,"c":"Y"},{"k":328,"v":0.99446,"c":"O"},{"k":328,"v":0.99440,"c":"G"},{"k":328,"v":0.99439,"c":"Y"},{"k":328,"v":0.99435,"c":"B"},{"k":328,"v":0.99433,"c":"R"},{"k":328,"v":0.99425,"c":"O"},
{"k":329,"v":0.99460,"c":"P"},{"k":329,"v":0.99459,"c":"C"},{"k":329,"v":0.99452,"c":"O"},{"k":329,"v":0.99443,"c":"O"},{"k":329,"v":0.99428,"c":"Y"},{"k":329,"v":0.99421,"c":"R"},{"k":329,"v":0.99416,"c":"G"},{"k":329,"v":0.99414,"c":"Y"},{"k":329,"v":0.99364,"c":"B"},{"k":329,"v":0.99439,"c":"B"},
{"k":330,"v":0.99465,"c":"P"},{"k":330,"v":0.99443,"c":"B"},{"k":330,"v":0.99442,"c":"O"},{"k":330,"v":0.99439,"c":"O"},{"k":330,"v":0.99438,"c":"Y"},{"k":330,"v":0.99437,"c":"C"},{"k":330,"v":0.99414,"c":"B"},{"k":330,"v":0.99389,"c":"R"},{"k":330,"v":0.99337,"c":"G"},{"k":330,"v":0.99322,"c":"Y"},
{"k":331,"v":0.99496,"c":"Y"},{"k":331,"v":0.99494,"c":"O"},{"k":331,"v":0.99461,"c":"O"},{"k":331,"v":0.99460,"c":"P"},{"k":331,"v":0.99457,"c":"B"},{"k":331,"v":0.99446,"c":"B"},{"k":331,"v":0.99441,"c":"Y"},{"k":331,"v":0.99440,"c":"G"},{"k":331,"v":0.99417,"c":"R"},{"k":331,"v":0.99407,"c":"C"},
{"k":332,"v":0.99481,"c":"P"},{"k":332,"v":0.99454,"c":"Y"},{"k":332,"v":0.99446,"c":"C"},{"k":332,"v":0.99442,"c":"B"},{"k":332,"v":0.99441,"c":"R"},{"k":332,"v":0.99435,"c":"Y"},{"k":332,"v":0.99428,"c":"B"},{"k":332,"v":0.99373,"c":"O"},{"k":332,"v":0.99335,"c":"G"},{"k":332,"v":0.99331,"c":"O"},
{"k":333,"v":0.99510,"c":"O"},{"k":333,"v":0.99469,"c":"R"},{"k":333,"v":0.99449,"c":"C"},{"k":333,"v":0.99446,"c":"B"},{"k":333,"v":0.99442,"c":"G"},{"k":333,"v":0.99439,"c":"O"},{"k":333,"v":0.99435,"c":"Y"},{"k":333,"v":0.99413,"c":"P"},{"k":333,"v":0.99409,"c":"B"},{"k":333,"v":0.99321,"c":"Y"},
{"k":334,"v":0.99470,"c":"C"},{"k":334,"v":0.99465,"c":"Y"},{"k":334,"v":0.99464,"c":"R"},{"k":334,"v":0.99453,"c":"O"},{"k":334,"v":0.99449,"c":"B"},{"k":334,"v":0.99446,"c":"P"},{"k":334,"v":0.99439,"c":"G"},{"k":334,"v":0.99435,"c":"O"},{"k":334,"v":0.99420,"c":"B"},{"k":334,"v":0.99328,"c":"Y"},
{"k":335,"v":0.99512,"c":"P"},{"k":335,"v":0.99485,"c":"B"},{"k":335,"v":0.99477,"c":"B"},{"k":335,"v":0.99468,"c":"R"},{"k":335,"v":0.99460,"c":"Y"},{"k":335,"v":0.99444,"c":"Y"},{"k":335,"v":0.99437,"c":"O"},{"k":335,"v":0.99427,"c":"C"},{"k":335,"v":0.99358,"c":"O"},{"k":335,"v":0.99341,"c":"G"},
{"k":336,"v":0.99482,"c":"P"},{"k":336,"v":0.99480,"c":"C"},{"k":336,"v":0.99471,"c":"O"},{"k":336,"v":0.99462,"c":"R"},{"k":336,"v":0.99451,"c":"B"},{"k":336,"v":0.99446,"c":"Y"},{"k":336,"v":0.99440,"c":"Y"},{"k":336,"v":0.99417,"c":"G"},{"k":336,"v":0.99380,"c":"B"},{"k":336,"v":0.99329,"c":"O"},
{"k":337,"v":0.99476,"c":"Y"},{"k":337,"v":0.99471,"c":"O"},{"k":337,"v":0.99458,"c":"G"},{"k":337,"v":0.99452,"c":"B"},{"k":337,"v":0.99451,"c":"R"},{"k":337,"v":0.99446,"c":"C"},{"k":337,"v":0.99439,"c":"Y"},{"k":337,"v":0.99431,"c":"P"},{"k":337,"v":0.99428,"c":"B"},{"k":337,"v":0.99406,"c":"O"},
{"k":338,"v":0.99479,"c":"B"},{"k":338,"v":0.99474,"c":"O"},{"k":338,"v":0.99470,"c":"O"},{"k":338,"v":0.99459,"c":"G"},{"k":338,"v":0.99453,"c":"B"},{"k":338,"v":0.99446,"c":"Y"},{"k":338,"v":0.99439,"c":"C"},{"k":338,"v":0.99428,"c":"R"},{"k":338,"v":0.99402,"c":"Y"},{"k":338,"v":0.99328,"c":"P"},
{"k":339,"v":0.99498,"c":"P"},{"k":339,"v":0.99476,"c":"Y"},{"k":339,"v":0.99470,"c":"R"},{"k":339,"v":0.99466,"c":"O"},{"k":339,"v":0.99460,"c":"C"},{"k":339,"v":0.99449,"c":"G"},{"k":339,"v":0.99446,"c":"B"},{"k":339,"v":0.99439,"c":"B"},{"k":339,"v":0.99409,"c":"O"},{"k":339,"v":0.99406,"c":"Y"},
{"k":340,"v":0.99502,"c":"Y"},{"k":340,"v":0.99489,"c":"B"},{"k":340,"v":0.99481,"c":"R"},{"k":340,"v":0.99472,"c":"C"},{"k":340,"v":0.99453,"c":"G"},{"k":340,"v":0.99446,"c":"P"},{"k":340,"v":0.99439,"c":"O"},{"k":340,"v":0.99431,"c":"B"},{"k":340,"v":0.99387,"c":"Y"},{"k":340,"v":0.99379,"c":"O"},
{"k":341,"v":0.99474,"c":"Y"},{"k":341,"v":0.99473,"c":"C"},{"k":341,"v":0.99464,"c":"O"},{"k":341,"v":0.99463,"c":"B"},{"k":341,"v":0.99457,"c":"P"},{"k":341,"v":0.99456,"c":"G"},{"k":341,"v":0.99442,"c":"Y"},{"k":341,"v":0.99428,"c":"O"},{"k":341,"v":0.99426,"c":"B"},{"k":341,"v":0.99409,"c":"R"},
{"k":342,"v":0.99512,"c":"P"},{"k":342,"v":0.99485,"c":"R"},{"k":342,"v":0.99465,"c":"O"},{"k":342,"v":0.99461,"c":"G"},{"k":342,"v":0.99460,"c":"Y"},{"k":342,"v":0.99453,"c":"Y"},{"k":342,"v":0.99446,"c":"C"},{"k":342,"v":0.99441,"c":"B"},{"k":342,"v":0.99427,"c":"O"},{"k":342,"v":0.99379,"c":"B"},
{"k":343,"v":0.99509,"c":"C"},{"k":343,"v":0.99500,"c":"B"},{"k":343,"v":0.99498,"c":"Y"},{"k":343,"v":0.99490,"c":"B"},{"k":343,"v":0.99482,"c":"R"},{"k":343,"v":0.99476,"c":"O"},{"k":343,"v":0.99470,"c":"Y"},{"k":343,"v":0.99451,"c":"G"},{"k":343,"v":0.99441,"c":"P"},{"k":343,"v":0.99427,"c":"O"},
{"k":344,"v":0.99482,"c":"R"},{"k":344,"v":0.99481,"c":"B"},{"k":344,"v":0.99474,"c":"O"},{"k":344,"v":0.99470,"c":"Y"},{"k":344,"v":0.99460,"c":"Y"},{"k":344,"v":0.99452,"c":"B"},{"k":344,"v":0.99446,"c":"G"},{"k":344,"v":0.99445,"c":"O"},{"k":344,"v":0.99418,"c":"C"},{"k":344,"v":0.99391,"c":"P"},
{"k":345,"v":0.99513,"c":"P"},{"k":345,"v":0.99500,"c":"Y"},{"k":345,"v":0.99497,"c":"B"},{"k":345,"v":0.99484,"c":"B"},{"k":345,"v":0.99471,"c":"C"},{"k":345,"v":0.99454,"c":"Y"},{"k":345,"v":0.99453,"c":"O"},{"k":345,"v":0.99427,"c":"R"},{"k":345,"v":0.99423,"c":"G"},{"k":345,"v":0.99408,"c":"O"},
{"k":346,"v":0.99495,"c":"Y"},{"k":346,"v":0.99483,"c":"G"},{"k":346,"v":0.99470,"c":"C"},{"k":346,"v":0.99466,"c":"P"},{"k":346,"v":0.99459,"c":"O"},{"k":346,"v":0.99446,"c":"R"},{"k":346,"v":0.99420,"c":"Y"},{"k":346,"v":0.99412,"c":"B"},{"k":346,"v":0.99408,"c":"O"},{"k":346,"v":0.99377,"c":"B"},
{"k":347,"v":0.99501,"c":"B"},{"k":347,"v":0.99481,"c":"O"},{"k":347,"v":0.99477,"c":"Y"},{"k":347,"v":0.99475,"c":"C"},{"k":347,"v":0.99474,"c":"B"},{"k":347,"v":0.99460,"c":"P"},{"k":347,"v":0.99449,"c":"Y"},{"k":347,"v":0.99447,"c":"G"},{"k":347,"v":0.99446,"c":"O"},{"k":347,"v":0.99433,"c":"R"},
{"k":348,"v":0.99472,"c":"R"},{"k":348,"v":0.99466,"c":"C"},{"k":348,"v":0.99446,"c":"Y"},{"k":348,"v":0.99438,"c":"B"},{"k":348,"v":0.99443,"c":"O"},{"k":348,"v":0.99435,"c":"Y"},{"k":348,"v":0.99428,"c":"B"},{"k":348,"v":0.99381,"c":"O"},{"k":348,"v":0.99350,"c":"P"},{"k":348,"v":0.99329,"c":"G"},
{"k":349,"v":0.99519,"c":"O"},{"k":349,"v":0.99478,"c":"P"},{"k":349,"v":0.99459,"c":"Y"},{"k":349,"v":0.99457,"c":"O"},{"k":349,"v":0.99456,"c":"R"},{"k":349,"v":0.99446,"c":"Y"},{"k":349,"v":0.99434,"c":"B"},{"k":349,"v":0.99432,"c":"G"},{"k":349,"v":0.99427,"c":"C"},{"k":349,"v":0.99408,"c":"B"},
{"k":350,"v":0.99473,"c":"O"},{"k":350,"v":0.99468,"c":"P"},{"k":350,"v":0.99461,"c":"B"},{"k":350,"v":0.99456,"c":"O"},{"k":350,"v":0.99453,"c":"G"},{"k":350,"v":0.99449,"c":"C"},{"k":350,"v":0.99446,"c":"B"},{"k":350,"v":0.99431,"c":"Y"},{"k":350,"v":0.99398,"c":"R"},{"k":350,"v":0.99332,"c":"Y"},
{"k":351,"v":0.99480,"c":"Y"},{"k":351,"v":0.99477,"c":"B"},{"k":351,"v":0.99471,"c":"B"},{"k":351,"v":0.99466,"c":"G"},{"k":351,"v":0.99463,"c":"P"},{"k":351,"v":0.99458,"c":"R"},{"k":351,"v":0.99456,"c":"O"},{"k":351,"v":0.99446,"c":"O"},{"k":351,"v":0.99441,"c":"C"},{"k":351,"v":0.99431,"c":"Y"},
{"k":352,"v":0.99525,"c":"G"},{"k":352,"v":0.99501,"c":"O"},{"k":352,"v":0.99492,"c":"B"},{"k":352,"v":0.99479,"c":"R"},{"k":352,"v":0.99466,"c":"O"},{"k":352,"v":0.99465,"c":"Y"},{"k":352,"v":0.99463,"c":"Y"},{"k":352,"v":0.99462,"c":"C"},{"k":352,"v":0.99448,"c":"B"},{"k":352,"v":0.99436,"c":"P"},
{"k":353,"v":0.99489,"c":"Y"},{"k":353,"v":0.99483,"c":"B"},{"k":353,"v":0.99478,"c":"R"},{"k":353,"v":0.99475,"c":"G"},{"k":353,"v":0.99470,"c":"O"},{"k":353,"v":0.99466,"c":"P"},{"k":353,"v":0.99463,"c":"O"},{"k":353,"v":0.99460,"c":"Y"},{"k":353,"v":0.99449,"c":"B"},{"k":353,"v":0.99446,"c":"C"},
{"k":354,"v":0.99513,"c":"B"},{"k":354,"v":0.99487,"c":"R"},{"k":354,"v":0.99482,"c":"B"},{"k":354,"v":0.99471,"c":"O"},{"k":354,"v":0.99463,"c":"Y"},{"k":354,"v":0.99456,"c":"O"},{"k":354,"v":0.99442,"c":"C"},{"k":354,"v":0.99410,"c":"P"},{"k":354,"v":0.99354,"c":"Y"},{"k":354,"v":0.99348,"c":"G"},
{"k":355,"v":0.99509,"c":"P"},{"k":355,"v":0.99474,"c":"O"},{"k":355,"v":0.99465,"c":"Y"},{"k":355,"v":0.99459,"c":"G"},{"k":355,"v":0.99456,"c":"Y"},{"k":355,"v":0.99442,"c":"B"},{"k":355,"v":0.99411,"c":"C"},{"k":355,"v":0.99405,"c":"R"},{"k":355,"v":0.99392,"c":"B"},{"k":355,"v":0.99320,"c":"O"},
{"k":356,"v":0.99505,"c":"O"},{"k":356,"v":0.99496,"c":"O"},{"k":356,"v":0.99493,"c":"C"},{"k":356,"v":0.99469,"c":"B"},{"k":356,"v":0.99465,"c":"R"},{"k":356,"v":0.99459,"c":"G"},{"k":356,"v":0.99452,"c":"Y"},{"k":356,"v":0.99406,"c":"B"},{"k":356,"v":0.99402,"c":"Y"},{"k":356,"v":0.99369,"c":"P"},
{"k":357,"v":0.99503,"c":"O"},{"k":357,"v":0.99500,"c":"B"},{"k":357,"v":0.99484,"c":"Y"},{"k":357,"v":0.99470,"c":"R"},{"k":357,"v":0.99468,"c":"O"},{"k":357,"v":0.99461,"c":"C"},{"k":357,"v":0.99459,"c":"G"},{"k":357,"v":0.99453,"c":"Y"},{"k":357,"v":0.99394,"c":"P"},{"k":357,"v":0.99393,"c":"B"},
{"k":358,"v":0.99532,"c":"O"},{"k":358,"v":0.99486,"c":"B"},{"k":358,"v":0.99476,"c":"Y"},{"k":358,"v":0.99470,"c":"R"},{"k":358,"v":0.99466,"c":"Y"},{"k":358,"v":0.99463,"c":"P"},{"k":358,"v":0.99460,"c":"G"},{"k":358,"v":0.99441,"c":"C"},{"k":358,"v":0.99413,"c":"O"},{"k":358,"v":0.99393,"c":"B"},
{"k":359,"v":0.99527,"c":"Y"},{"k":359,"v":0.99491,"c":"B"},{"k":359,"v":0.99485,"c":"G"},{"k":359,"v":0.99481,"c":"R"},{"k":359,"v":0.99480,"c":"O"},{"k":359,"v":0.99477,"c":"Y"},{"k":359,"v":0.99473,"c":"B"},{"k":359,"v":0.99460,"c":"C"},{"k":359,"v":0.99445,"c":"P"},{"k":359,"v":0.99362,"c":"O"},
{"k":360,"v":0.99502,"c":"B"},{"k":360,"v":0.99501,"c":"O"},{"k":360,"v":0.99500,"c":"Y"},{"k":360,"v":0.99475,"c":"C"},{"k":360,"v":0.99472,"c":"G"},{"k":360,"v":0.99463,"c":"Y"},{"k":360,"v":0.99444,"c":"R"},{"k":360,"v":0.99409,"c":"P"},{"k":360,"v":0.99400,"c":"B"},{"k":360,"v":0.99395,"c":"O"},
{"k":361,"v":0.99504,"c":"G"},{"k":361,"v":0.99486,"c":"P"},{"k":361,"v":0.99481,"c":"O"},{"k":361,"v":0.99478,"c":"R"},{"k":361,"v":0.99475,"c":"O"},{"k":361,"v":0.99453,"c":"B"},{"k":361,"v":0.99443,"c":"Y"},{"k":361,"v":0.99442,"c":"B"},{"k":361,"v":0.99431,"c":"C"},{"k":361,"v":0.99293,"c":"Y"},
{"k":362,"v":0.99513,"c":"O"},{"k":362,"v":0.99503,"c":"R"},{"k":362,"v":0.99499,"c":"P"},{"k":362,"v":0.99485,"c":"O"},{"k":362,"v":0.99476,"c":"C"},{"k":362,"v":0.99463,"c":"G"},{"k":362,"v":0.99446,"c":"Y"},{"k":362,"v":0.99423,"c":"B"},{"k":362,"v":0.99379,"c":"Y"},{"k":362,"v":0.99371,"c":"B"},
{"k":363,"v":0.99485,"c":"O"},{"k":363,"v":0.99478,"c":"B"},{"k":363,"v":0.99473,"c":"B"},{"k":363,"v":0.99472,"c":"P"},{"k":363,"v":0.99466,"c":"Y"},{"k":363,"v":0.99450,"c":"R"},{"k":363,"v":0.99446,"c":"O"},{"k":363,"v":0.99435,"c":"G"},{"k":363,"v":0.99426,"c":"Y"},{"k":363,"v":0.99425,"c":"C"},
{"k":364,"v":0.99505,"c":"C"},{"k":364,"v":0.99497,"c":"P"},{"k":364,"v":0.99470,"c":"O"},{"k":364,"v":0.99460,"c":"O"},{"k":364,"v":0.99456,"c":"Y"},{"k":364,"v":0.99453,"c":"B"},{"k":364,"v":0.99451,"c":"Y"},{"k":364,"v":0.99446,"c":"B"},{"k":364,"v":0.99437,"c":"G"},{"k":364,"v":0.99435,"c":"R"},
{"k":365,"v":0.99504,"c":"B"},{"k":365,"v":0.99488,"c":"Y"},{"k":365,"v":0.99478,"c":"C"},{"k":365,"v":0.99468,"c":"R"},{"k":365,"v":0.99460,"c":"O"},{"k":365,"v":0.99453,"c":"O"},{"k":365,"v":0.99446,"c":"B"},{"k":365,"v":0.99410,"c":"G"},{"k":365,"v":0.99398,"c":"Y"},{"k":365,"v":0.99382,"c":"P"},
{"k":366,"v":0.99519,"c":"B"},{"k":366,"v":0.99507,"c":"Y"},{"k":366,"v":0.99494,"c":"P"},{"k":366,"v":0.99478,"c":"O"},{"k":366,"v":0.99474,"c":"R"},{"k":366,"v":0.99466,"c":"C"},{"k":366,"v":0.99458,"c":"Y"},{"k":366,"v":0.99422,"c":"O"},{"k":366,"v":0.99414,"c":"G"},{"k":366,"v":0.99371,"c":"B"},
{"k":367,"v":0.99507,"c":"O"},{"k":367,"v":0.99480,"c":"P"},{"k":367,"v":0.99472,"c":"G"},{"k":367,"v":0.99471,"c":"O"},{"k":367,"v":0.99467,"c":"R"},{"k":367,"v":0.99466,"c":"C"},{"k":367,"v":0.99463,"c":"B"},{"k":367,"v":0.99460,"c":"Y"},{"k":367,"v":0.99452,"c":"B"},{"k":367,"v":0.99367,"c":"Y"},
{"k":368,"v":0.99512,"c":"O"},{"k":368,"v":0.99498,"c":"B"},{"k":368,"v":0.99495,"c":"C"},{"k":368,"v":0.99489,"c":"B"},{"k":368,"v":0.99482,"c":"R"},{"k":368,"v":0.99480,"c":"Y"},{"k":368,"v":0.99472,"c":"G"},{"k":368,"v":0.99466,"c":"O"},{"k":368,"v":0.99440,"c":"P"},{"k":368,"v":0.99401,"c":"Y"},
{"k":369,"v":0.99525,"c":"O"},{"k":369,"v":0.99485,"c":"G"},{"k":369,"v":0.99480,"c":"C"},{"k":369,"v":0.99473,"c":"Y"},{"k":369,"v":0.99470,"c":"O"},{"k":369,"v":0.99466,"c":"B"},{"k":369,"v":0.99459,"c":"R"},{"k":369,"v":0.99450,"c":"P"},{"k":369,"v":0.99446,"c":"B"},{"k":369,"v":0.99442,"c":"Y"},
{"k":370,"v":0.99520,"c":"B"},{"k":370,"v":0.99505,"c":"O"},{"k":370,"v":0.99503,"c":"P"},{"k":370,"v":0.99488,"c":"Y"},{"k":370,"v":0.99481,"c":"C"},{"k":370,"v":0.99476,"c":"O"},{"k":370,"v":0.99470,"c":"Y"},{"k":370,"v":0.99460,"c":"G"},{"k":370,"v":0.99409,"c":"B"},{"k":370,"v":0.99403,"c":"R"},
{"k":371,"v":0.99509,"c":"G"},{"k":371,"v":0.99492,"c":"B"},{"k":371,"v":0.99480,"c":"Y"},{"k":371,"v":0.99474,"c":"B"},{"k":371,"v":0.99463,"c":"C"},{"k":371,"v":0.99461,"c":"O"},{"k":371,"v":0.99453,"c":"O"},{"k":371,"v":0.99431,"c":"R"},{"k":371,"v":0.99366,"c":"P"},{"k":371,"v":0.99356,"c":"Y"},
{"k":372,"v":0.99522,"c":"O"},{"k":372,"v":0.99519,"c":"B"},{"k":372,"v":0.99510,"c":"P"},{"k":372,"v":0.99498,"c":"B"},{"k":372,"v":0.99493,"c":"Y"},{"k":372,"v":0.99487,"c":"Y"},{"k":372,"v":0.99484,"c":"O"},{"k":372,"v":0.99466,"c":"R"},{"k":372,"v":0.99456,"c":"G"},{"k":372,"v":0.99357,"c":"C"},
{"k":373,"v":0.99508,"c":"Y"},{"k":373,"v":0.99486,"c":"O"},{"k":373,"v":0.99481,"c":"Y"},{"k":373,"v":0.99478,"c":"B"},{"k":373,"v":0.99473,"c":"O"},{"k":373,"v":0.99466,"c":"R"},{"k":373,"v":0.99465,"c":"P"},{"k":373,"v":0.99416,"c":"C"},{"k":373,"v":0.99398,"c":"G"},{"k":373,"v":0.99397,"c":"B"},
{"k":374,"v":0.99528,"c":"B"},{"k":374,"v":0.99510,"c":"P"},{"k":374,"v":0.99497,"c":"G"},{"k":374,"v":0.99489,"c":"B"},{"k":374,"v":0.99477,"c":"Y"},{"k":374,"v":0.99473,"c":"O"},{"k":374,"v":0.99466,"c":"C"},{"k":374,"v":0.99463,"c":"Y"},{"k":374,"v":0.99462,"c":"O"},{"k":374,"v":0.99430,"c":"R"},
{"k":375,"v":0.99518,"c":"Y"},{"k":375,"v":0.99500,"c":"R"},{"k":375,"v":0.99497,"c":"O"},{"k":375,"v":0.99481,"c":"Y"},{"k":375,"v":0.99479,"c":"C"},{"k":375,"v":0.99466,"c":"B"},{"k":375,"v":0.99452,"c":"B"},{"k":375,"v":0.99440,"c":"G"},{"k":375,"v":0.99401,"c":"O"},{"k":375,"v":0.99390,"c":"P"},
{"k":376,"v":0.99491,"c":"O"},{"k":376,"v":0.99487,"c":"B"},{"k":376,"v":0.99483,"c":"Y"},{"k":376,"v":0.99480,"c":"P"},{"k":376,"v":0.99473,"c":"C"},{"k":376,"v":0.99471,"c":"G"},{"k":376,"v":0.99470,"c":"B"},{"k":376,"v":0.99463,"c":"Y"},{"k":376,"v":0.99433,"c":"R"},{"k":376,"v":0.99389,"c":"O"},
{"k":377,"v":0.99506,"c":"R"},{"k":377,"v":0.99503,"c":"G"},{"k":377,"v":0.99494,"c":"B"},{"k":377,"v":0.99487,"c":"C"},{"k":377,"v":0.99481,"c":"Y"},{"k":377,"v":0.99477,"c":"O"},{"k":377,"v":0.99470,"c":"P"},{"k":377,"v":0.99446,"c":"Y"},{"k":377,"v":0.99417,"c":"B"},{"k":377,"v":0.99397,"c":"O"},
{"k":378,"v":0.99511,"c":"R"},{"k":378,"v":0.99497,"c":"C"},{"k":378,"v":0.99493,"c":"Y"},{"k":378,"v":0.99487,"c":"G"},{"k":378,"v":0.99473,"c":"B"},{"k":378,"v":0.99464,"c":"Y"},{"k":378,"v":0.99444,"c":"O"},{"k":378,"v":0.99415,"c":"O"},{"k":378,"v":0.99408,"c":"P"},{"k":378,"v":0.99365,"c":"B"},
{"k":379,"v":0.99513,"c":"G"},{"k":379,"v":0.99496,"c":"C"},{"k":379,"v":0.99486,"c":"B"},{"k":379,"v":0.99482,"c":"R"},{"k":379,"v":0.99473,"c":"Y"},{"k":379,"v":0.99466,"c":"Y"},{"k":379,"v":0.99463,"c":"O"},{"k":379,"v":0.99460,"c":"P"},{"k":379,"v":0.99450,"c":"B"},{"k":379,"v":0.99369,"c":"O"},
{"k":380,"v":0.99521,"c":"O"},{"k":380,"v":0.99519,"c":"G"},{"k":380,"v":0.99517,"c":"P"},{"k":380,"v":0.99499,"c":"R"},{"k":380,"v":0.99480,"c":"Y"},{"k":380,"v":0.99476,"c":"Y"},{"k":380,"v":0.99473,"c":"B"},{"k":380,"v":0.99471,"c":"C"},{"k":380,"v":0.99470,"c":"O"},{"k":380,"v":0.99406,"c":"B"},
{"k":381,"v":0.99509,"c":"G"},{"k":381,"v":0.99480,"c":"B"},{"k":381,"v":0.99474,"c":"C"},{"k":381,"v":0.99470,"c":"Y"},{"k":381,"v":0.99469,"c":"B"},{"k":381,"v":0.99463,"c":"P"},{"k":381,"v":0.99458,"c":"O"},{"k":381,"v":0.99448,"c":"Y"},{"k":381,"v":0.99446,"c":"R"},{"k":381,"v":0.99417,"c":"O"},
{"k":382,"v":0.99510,"c":"O"},{"k":382,"v":0.99498,"c":"B"},{"k":382,"v":0.99477,"c":"C"},{"k":382,"v":0.99476,"c":"O"},{"k":382,"v":0.99473,"c":"Y"},{"k":382,"v":0.99466,"c":"Y"},{"k":382,"v":0.99463,"c":"R"},{"k":382,"v":0.99456,"c":"B"},{"k":382,"v":0.99438,"c":"P"},{"k":382,"v":0.99415,"c":"G"},
{"k":383,"v":0.99539,"c":"P"},{"k":383,"v":0.99520,"c":"R"},{"k":383,"v":0.99508,"c":"Y"},{"k":383,"v":0.99494,"c":"B"},{"k":383,"v":0.99486,"c":"O"},{"k":383,"v":0.99481,"c":"O"},{"k":383,"v":0.99470,"c":"G"},{"k":383,"v":0.99454,"c":"C"},{"k":383,"v":0.99449,"c":"Y"},{"k":383,"v":0.99357,"c":"B"},
{"k":384,"v":0.99500,"c":"R"},{"k":384,"v":0.99482,"c":"O"},{"k":384,"v":0.99480,"c":"P"},{"k":384,"v":0.99473,"c":"O"},{"k":384,"v":0.99463,"c":"B"},{"k":384,"v":0.99452,"c":"Y"},{"k":384,"v":0.99430,"c":"G"},{"k":384,"v":0.99411,"c":"Y"},{"k":384,"v":0.99371,"c":"B"},{"k":384,"v":0.99353,"c":"C"}
],
"psnrMean":[
{"k":308,"v":42.867},{"k":309,"v":42.809},{"k":310,"v":42.794},{"k":311,"v":42.803},{"k":312,"v":42.989},{"k":313,"v":42.902},{"k":314,"v":42.954},{"k":315,"v":42.925},{"k":316,"v":42.789},{"k":317,"v":42.823},{"k":318,"v":42.832},{"k":319,"v":42.992},{"k":320,"v":42.896},{"k":321,"v":42.890},{"k":322,"v":43.018},{"k":323,"v":42.989},{"k":324,"v":42.908},{"k":325,"v":42.908},{"k":326,"v":43.041},{"k":327,"v":42.954},{"k":328,"v":43.012},{"k":329,"v":42.838},{"k":330,"v":42.736},{"k":331,"v":43.035},{"k":332,"v":42.780},{"k":333,"v":42.881},{"k":334,"v":42.939},{"k":335,"v":42.954},{"k":336,"v":42.910},{"k":337,"v":42.989},{"k":338,"v":42.910},{"k":339,"v":43.056},{"k":340,"v":42.968},{"k":341,"v":43.006},{"k":342,"v":43.047},{"k":343,"v":43.198},{"k":344,"v":43.027},{"k":345,"v":43.088},{"k":346,"v":42.925},{"k":347,"v":43.105},{"k":348,"v":42.786},{"k":349,"v":43.006},{"k":350,"v":42.881},{"k":351,"v":43.076},{"k":352,"v":43.201},{"k":353,"v":43.105},{"k":354,"v":42.896},{"k":355,"v":42.849},{"k":356,"v":42.977},{"k":357,"v":43.085},{"k":358,"v":43.076},{"k":359,"v":43.134},{"k":360,"v":43.018},{"k":361,"v":42.948},{"k":362,"v":43.027},{"k":363,"v":43.056},{"k":364,"v":43.064},{"k":365,"v":42.994},{"k":366,"v":43.061},{"k":367,"v":42.989},{"k":368,"v":43.114},{"k":369,"v":43.093},{"k":370,"v":43.093},{"k":371,"v":42.919},{"k":372,"v":43.172},{"k":373,"v":42.983},{"k":374,"v":43.166},{"k":375,"v":43.056},{"k":376,"v":43.027},{"k":377,"v":43.070},{"k":378,"v":42.937},{"k":379,"v":43.030},{"k":380,"v":43.172},{"k":381,"v":43.006},{"k":382,"v":43.018},{"k":383,"v":43.070},{"k":384,"v":42.838}
],
"ssimMean":[
{"k":308,"v":0.994212},{"k":309,"v":0.994160},{"k":310,"v":0.994153},{"k":311,"v":0.994170},{"k":312,"v":0.994379},{"k":313,"v":0.994289},{"k":314,"v":0.994369},{"k":315,"v":0.994334},{"k":316,"v":0.994143},{"k":317,"v":0.994205},{"k":318,"v":0.994219},{"k":319,"v":0.994404},{"k":320,"v":0.994310},{"k":321,"v":0.994299},{"k":322,"v":0.994463},{"k":323,"v":0.994414},{"k":324,"v":0.994324},{"k":325,"v":0.994327},{"k":326,"v":0.994515},{"k":327,"v":0.994393},{"k":328,"v":0.994456},{"k":329,"v":0.994264},{"k":330,"v":0.994149},{"k":331,"v":0.994498},{"k":332,"v":0.994195},{"k":333,"v":0.994324},{"k":334,"v":0.994404},{"k":335,"v":0.994411},{"k":336,"v":0.994351},{"k":337,"v":0.994463},{"k":338,"v":0.994379},{"k":339,"v":0.994525},{"k":340,"v":0.994449},{"k":341,"v":0.994515},{"k":342,"v":0.994560},{"k":343,"v":0.994748},{"k":344,"v":0.994491},{"k":345,"v":0.994630},{"k":346,"v":0.994438},{"k":347,"v":0.994654},{"k":348,"v":0.994219},{"k":349,"v":0.994515},{"k":350,"v":0.994386},{"k":351,"v":0.994612},{"k":352,"v":0.994752},{"k":353,"v":0.994654},{"k":354,"v":0.994428},{"k":355,"v":0.994341},{"k":356,"v":0.994491},{"k":357,"v":0.994672},{"k":358,"v":0.994665},{"k":359,"v":0.994692},{"k":360,"v":0.994560},{"k":361,"v":0.994484},{"k":362,"v":0.994626},{"k":363,"v":0.994630},{"k":364,"v":0.994637},{"k":365,"v":0.994548},{"k":366,"v":0.994640},{"k":367,"v":0.994585},{"k":368,"v":0.994699},{"k":369,"v":0.994686},{"k":370,"v":0.994713},{"k":371,"v":0.994491},{"k":372,"v":0.994783},{"k":373,"v":0.994588},{"k":374,"v":0.994780},{"k":375,"v":0.994658},{"k":376,"v":0.994658},{"k":377,"v":0.994672},{"k":378,"v":0.994567},{"k":379,"v":0.994651},{"k":380,"v":0.994832},{"k":381,"v":0.994651},{"k":382,"v":0.994665},{"k":383,"v":0.994727},{"k":384,"v":0.994438}
]
},
"vconcat":[
{"width":867,"height":287,
"layer":[
{"data":{"name":"psnr"},"mark":{"type":"circle","size":22,"opacity":1},
"encoding":{
"x":{"field":"k","type":"quantitative","scale":{"domain":[300,390],"nice":false,"zero":false},"axis":{"values":[300,310,320,330,340,350,360,370,380,390],"format":"d","title":"k","labelPadding":18,"titlePadding":4}},
"y":{"field":"v","type":"quantitative","scale":{"domain":[41.5,44],"nice":false,"zero":false},"axis":{"values":[41.5,42,42.5,43,43.5,44],"format":".1~f","title":"dB","labelPadding":15,"titlePadding":10}},
"color":{"field":"c","type":"nominal","scale":{"domain":["B","O","Y","P","G","C","R"],"range":["#0072BD","#D95319","#EDB120","#7E2F8E","#77AC30","#4DBEEE","#A2142F"]},"legend":null}}},
{"data":{"name":"psnrMean"},"mark":{"type":"line","color":"#FF0000","strokeWidth":4.5},
"encoding":{
"x":{"field":"k","type":"quantitative","scale":{"domain":[300,390],"nice":false,"zero":false},"axis":{"orient":"top","values":[300,310,320,330,340,350,360,370,380,390],"labels":false,"title":null}},
"y":{"field":"v","type":"quantitative","scale":{"domain":[41.5,44],"nice":false,"zero":false},"axis":{"orient":"right","values":[41.5,42,42.5,43,43.5,44],"labels":false,"title":null}}}}
],
"resolve":{"axis":{"x":"independent","y":"independent"}}
},
{"width":867,"height":287,
"layer":[
{"data":{"name":"ssim"},"mark":{"type":"circle","size":22,"opacity":1},
"encoding":{
"x":{"field":"k","type":"quantitative","scale":{"domain":[300,390],"nice":false,"zero":false},"axis":{"values":[300,310,320,330,340,350,360,370,380,390],"format":"d","title":"k","labelPadding":18,"titlePadding":4}},
"y":{"field":"v","type":"quantitative","scale":{"domain":[0.9925,0.9955],"nice":false,"zero":false},"axis":{"values":[0.9925,0.993,0.9935,0.994,0.9945,0.995,0.9955],"format":".4~f","title":"MSSIM","labelPadding":15,"titlePadding":10}},
"color":{"field":"c","type":"nominal","scale":{"domain":["B","O","Y","P","G","C","R"],"range":["#0072BD","#D95319","#EDB120","#7E2F8E","#77AC30","#4DBEEE","#A2142F"]},"legend":null}}},
{"data":{"name":"ssimMean"},"mark":{"type":"line","color":"#FF0000","strokeWidth":4.5},
"encoding":{
"x":{"field":"k","type":"quantitative","scale":{"domain":[300,390],"nice":false,"zero":false},"axis":{"orient":"top","values":[300,310,320,330,340,350,360,370,380,390],"labels":false,"title":null}},
"y":{"field":"v","type":"quantitative","scale":{"domain":[0.9925,0.9955],"nice":false,"zero":false},"axis":{"orient":"right","values":[0.9925,0.993,0.9935,0.994,0.9945,0.995,0.9955],"labels":false,"title":null}}}}
],
"resolve":{"axis":{"x":"independent","y":"independent"}}
}
]
}
